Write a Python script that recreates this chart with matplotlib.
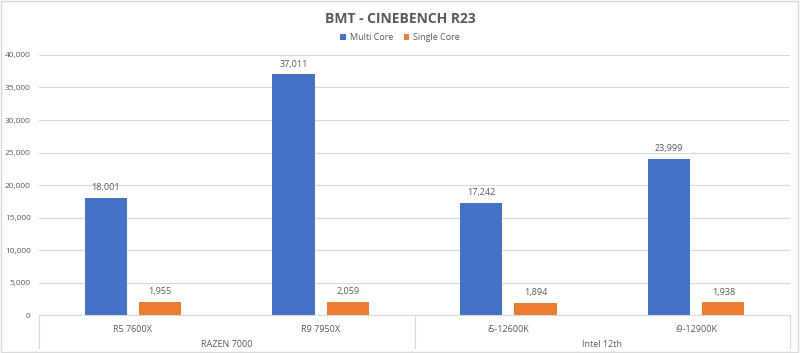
import matplotlib.pyplot as plt
import numpy as np
from matplotlib.transforms import blended_transform_factory

plt.rcParams['font.family'] = ['Open Sans', 'DejaVu Sans']

cpus = ["R5 7600X", "R9 7950X", "i5-12600K", "i9-12900K"]
groups = ["RAZEN 7000", "Intel 12th"]
multi = [18001, 37011, 17242, 23999]
single = [1955, 2059, 1894, 1938]

grey = "#595959"
blue = "#4472C4"
orange = "#ED7D31"

fig = plt.figure(figsize=(8, 3.53), dpi=100)
ax = fig.add_axes([0.04875, 0.1076, 0.93875, 0.7366])

x = np.arange(len(cpus))
w = 0.225
b1 = ax.bar(x - 0.145, multi, w, color=blue, label="Multi Core", zorder=3)
b2 = ax.bar(x + 0.145, single, w, color=orange, label="Single Core", zorder=3)

for bars in (b1, b2):
    for r in bars:
        ax.text(r.get_x() + r.get_width() / 2, r.get_height() + 900,
                f"{int(r.get_height()):,}", ha="center", va="bottom",
                fontsize=6.5, color=grey)

ax.set_xlim(-0.5, len(cpus) - 0.5)
ax.set_ylim(0, 40000)
ax.set_yticks(np.arange(0, 40001, 5000))
ax.set_yticklabels([f"{v:,}" for v in range(0, 40001, 5000)])
ax.tick_params(axis="y", length=0, labelsize=6, labelcolor=grey, pad=6)
ax.set_xticks([])
ax.grid(axis="y", color="#D9D9D9", linewidth=0.8, zorder=0)
for s in ["top", "right", "left"]:
    ax.spines[s].set_visible(False)
ax.spines["bottom"].set_color("#D9D9D9")

trans = blended_transform_factory(ax.transData, ax.transAxes)
for i, c in enumerate(cpus):
    ax.text(i, -0.04, c, transform=trans, ha="center", va="top",
            fontsize=6.5, color=grey)
for j, g in enumerate(groups):
    ax.text(2 * j + 0.5, -0.097, g, transform=trans, ha="center", va="top",
            fontsize=6.5, color=grey)
for xv in [-0.5, 1.5, 3.5]:
    ax.plot([xv, xv], [0, -0.127], transform=trans, color="#D9D9D9",
            linewidth=0.8, clip_on=False)

fig.text(0.5, 0.945, "BMT - CINEBENCH R23", ha="center", va="center",
         fontsize=10, fontweight="bold", color=grey)
fig.legend(loc="center", bbox_to_anchor=(0.5, 0.893), ncol=2, frameon=False,
           fontsize=6.5, labelcolor=grey, handlelength=0.6, handleheight=0.6,
           columnspacing=1.2, handletextpad=0.4)

fig.patches.append(plt.Rectangle((0.001, 0.002), 0.997, 0.995, transform=fig.transFigure,
                                 fill=False, edgecolor="#D9D9D9", linewidth=1))

fig.savefig("out.png", dpi=100)
